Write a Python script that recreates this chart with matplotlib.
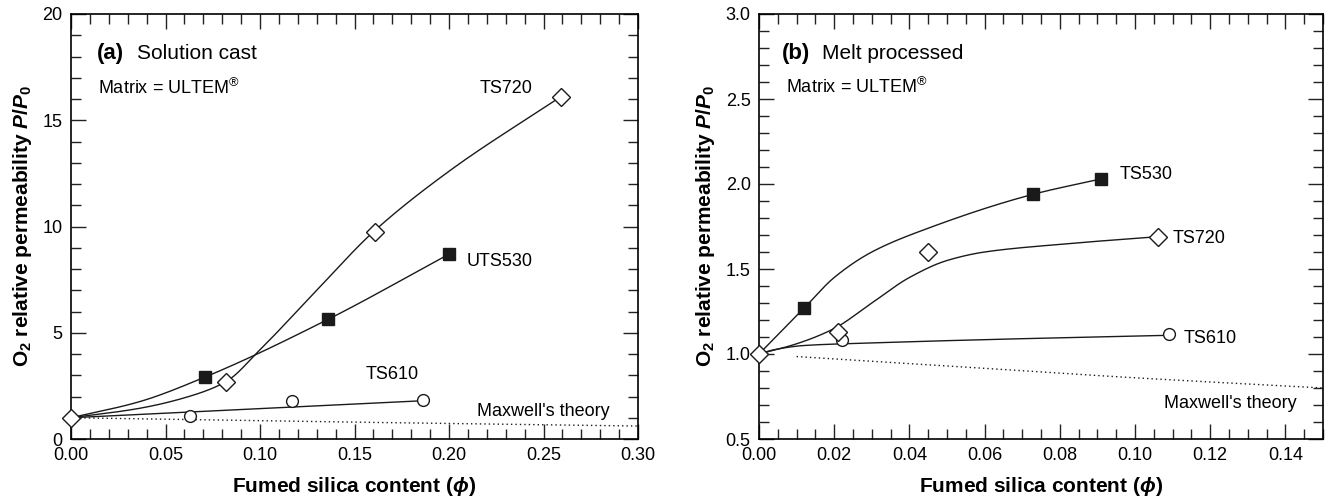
import numpy as np
import matplotlib
matplotlib.use("Agg")
import matplotlib.pyplot as plt
from matplotlib.ticker import MultipleLocator, FormatStrFormatter

plt.rcParams['font.family'] = ['Liberation Sans', 'DejaVu Sans']
plt.rcParams['mathtext.fontset'] = 'custom'
plt.rcParams['mathtext.rm'] = 'Liberation Sans'
plt.rcParams['mathtext.it'] = 'Liberation Sans:italic:bold'
plt.rcParams['mathtext.bf'] = 'Liberation Sans:bold'
plt.rcParams['mathtext.fallback'] = 'stixsans'

# unfilled reference point P/P0 = 1 at phi = 0
ref_x = [0.0]
ref_y = [1.0]

# (a) solution cast - measured points
a_ts720_x = [0.082, 0.161, 0.259]
a_ts720_y = [2.70, 9.75, 16.1]
a_uts530_x = [0.071, 0.136, 0.200]
a_uts530_y = [2.90, 5.63, 8.70]
a_ts610_x = [0.063, 0.117, 0.186]
a_ts610_y = [1.10, 1.77, 1.85]

# (a) guide curves
a_ts720_fx = [0.0, 0.036, 0.062, 0.082, 0.100, 0.130, 0.160, 0.200, 0.259]
a_ts720_fy = [1.0, 1.44, 1.99, 2.70, 4.20, 7.00, 9.75, 12.6, 16.1]
a_uts530_fx = [0.0, 0.036, 0.0705, 0.136, 0.200]
a_uts530_fy = [1.0, 1.75, 2.90, 5.63, 8.70]
a_ts610_fx = [0.0, 0.186]
a_ts610_fy = [1.0, 1.80]
a_maxwell_x = [0.0, 0.10, 0.20, 0.30]
a_maxwell_y = [1.0, 0.86, 0.73, 0.61]

# (b) melt processed - measured points
b_ts530_x = [0.012, 0.073, 0.091]
b_ts530_y = [1.27, 1.94, 2.03]
b_ts720_x = [0.021, 0.045, 0.106]
b_ts720_y = [1.13, 1.60, 1.69]
b_ts610_x = [0.022, 0.109]
b_ts610_y = [1.08, 1.115]

# (b) guide curves
b_ts530_fx = [0.0, 0.012, 0.020, 0.030, 0.045, 0.073, 0.091]
b_ts530_fy = [1.0, 1.27, 1.45, 1.60, 1.74, 1.94, 2.03]
b_ts720_fx = [0.0, 0.010, 0.020, 0.030, 0.040, 0.050, 0.060, 0.080, 0.106]
b_ts720_fy = [1.0, 1.06, 1.15, 1.30, 1.45, 1.55, 1.60, 1.645, 1.69]
b_ts610_fx = [0.0, 0.004, 0.012, 0.030, 0.061, 0.109]
b_ts610_fy = [1.0, 1.025, 1.05, 1.065, 1.085, 1.11]
b_maxwell_x = [0.01, 0.05, 0.10, 0.15]
b_maxwell_y = [0.985, 0.93, 0.86, 0.80]


def smooth(xk, yk, num=300):
    # monotone cubic hermite through the knots
    xk = np.asarray(xk, float)
    yk = np.asarray(yk, float)
    h = np.diff(xk)
    d = np.diff(yk) / h
    m = np.zeros_like(yk)
    m[0], m[-1] = d[0], d[-1]
    for i in range(1, len(xk) - 1):
        if d[i - 1] * d[i] > 0:
            w1 = 2 * h[i] + h[i - 1]
            w2 = h[i] + 2 * h[i - 1]
            m[i] = (w1 + w2) / (w1 / d[i - 1] + w2 / d[i])
    xs = np.linspace(xk[0], xk[-1], num)
    i = np.clip(np.searchsorted(xk, xs) - 1, 0, len(h) - 1)
    t = (xs - xk[i]) / h[i]
    ys = ((2 * t**3 - 3 * t**2 + 1) * yk[i] + (t**3 - 2 * t**2 + t) * h[i] * m[i]
          + (-2 * t**3 + 3 * t**2) * yk[i + 1] + (t**3 - t**2) * h[i] * m[i + 1])
    return xs, ys


sq = dict(marker='s', ms=8, mfc='#1a1a1a', mec='#1a1a1a', ls='none', zorder=4)
dia = dict(marker='D', ms=9.5, mfc='white', mec='#1a1a1a', mew=1.0, ls='none', zorder=5)
circ = dict(marker='o', ms=8.5, mfc='white', mec='#1a1a1a', mew=1.0, ls='none', zorder=4)
line = dict(color='#1a1a1a', lw=1.0, zorder=3)
dots = dict(color='#1a1a1a', lw=1.0, ls=(0, (1, 2.2)), zorder=2)

fig = plt.figure(figsize=(13.3, 5), dpi=100)
ax1 = fig.add_axes([71 / 1330, 61 / 500, 567 / 1330, 425 / 500])
ax2 = fig.add_axes([759 / 1330, 61 / 500, 564 / 1330, 425 / 500])


def style(ax, xmaj, xmin, ymaj, ymin, xfmt, yfmt):
    ax.xaxis.set_major_locator(MultipleLocator(xmaj))
    ax.xaxis.set_minor_locator(MultipleLocator(xmin))
    ax.yaxis.set_major_locator(MultipleLocator(ymaj))
    ax.yaxis.set_minor_locator(MultipleLocator(ymin))
    ax.xaxis.set_major_formatter(FormatStrFormatter(xfmt))
    ax.yaxis.set_major_formatter(FormatStrFormatter(yfmt))
    ax.tick_params(which='both', direction='in', top=True, right=True,
                   width=1.0, color='#222222', labelsize=13)
    ax.tick_params(which='major', length=11, pad=6)
    ax.tick_params(which='minor', length=7.5)
    for s in ax.spines.values():
        s.set_linewidth(1.2)
    ax.set_xlabel('Fumed silica content ($\\mathit{\\phi}$)', fontsize=15,
                  fontweight='bold', labelpad=8)
    ax.set_ylabel('O$_\\mathbf{2}$ relative permeability $\\mathit{P}$/$\\mathit{P}_\\mathbf{0}$',
                  fontsize=15, fontweight='bold', labelpad=6)


# panel (a)
ax1.plot(*smooth(a_ts720_fx, a_ts720_fy), **line)
ax1.plot(*smooth(a_uts530_fx, a_uts530_fy), **line)
ax1.plot(*smooth(a_ts610_fx, a_ts610_fy), **line)
ax1.plot(*smooth(a_maxwell_x, a_maxwell_y), **dots)
ax1.plot(a_uts530_x, a_uts530_y, **sq)
ax1.plot(a_ts610_x, a_ts610_y, **circ)
ax1.plot(a_ts720_x, a_ts720_y, **dia)
ax1.plot(ref_x, ref_y, clip_on=False, **dia)
ax1.set_xlim(0, 0.30)
ax1.set_ylim(0, 20)
style(ax1, 0.05, 0.01, 5, 1, '%.2f', '%d')
ax1.text(0.0138, 18.15, '(a)', fontsize=16, fontweight='bold', va='center')
ax1.text(0.0350, 18.15, 'Solution cast', fontsize=15, va='center')
ax1.text(0.0143, 16.5, 'Matrix = ULTEM$^{\\mathrm{®}}$', fontsize=13, va='center')
ax1.text(0.216, 16.5, 'TS720', fontsize=13, va='center')
ax1.text(0.2095, 8.33, 'UTS530', fontsize=13, va='center')
ax1.text(0.156, 3.04, 'TS610', fontsize=13, va='center')
ax1.text(0.215, 1.28, "Maxwell's theory", fontsize=13, va='center')

# panel (b)
ax2.plot(*smooth(b_ts530_fx, b_ts530_fy), **line)
ax2.plot(*smooth(b_ts720_fx, b_ts720_fy), **line)
ax2.plot(*smooth(b_ts610_fx, b_ts610_fy), **line)
ax2.plot(*smooth(b_maxwell_x, b_maxwell_y), **dots)
ax2.plot(b_ts530_x, b_ts530_y, **sq)
ax2.plot(b_ts610_x, b_ts610_y, **circ)
ax2.plot(b_ts720_x, b_ts720_y, **dia)
ax2.plot(ref_x, ref_y, clip_on=False, **dia)
ax2.set_xlim(0, 0.15)
ax2.set_ylim(0.5, 3.0)
style(ax2, 0.02, 0.005, 0.5, 0.1, '%.2f', '%.1f')
ax2.text(0.0061, 2.77, '(b)', fontsize=16, fontweight='bold', va='center')
ax2.text(0.0168, 2.77, 'Melt processed', fontsize=15, va='center')
ax2.text(0.0072, 2.568, 'Matrix = ULTEM$^{\\mathrm{®}}$', fontsize=13, va='center')
ax2.text(0.096, 2.053, 'TS530', fontsize=13, va='center')
ax2.text(0.110, 1.682, 'TS720', fontsize=13, va='center')
ax2.text(0.1128, 1.094, 'TS610', fontsize=13, va='center')
ax2.text(0.1077, 0.71, "Maxwell's theory", fontsize=13, va='center')

fig.savefig('out.png', dpi=100)
